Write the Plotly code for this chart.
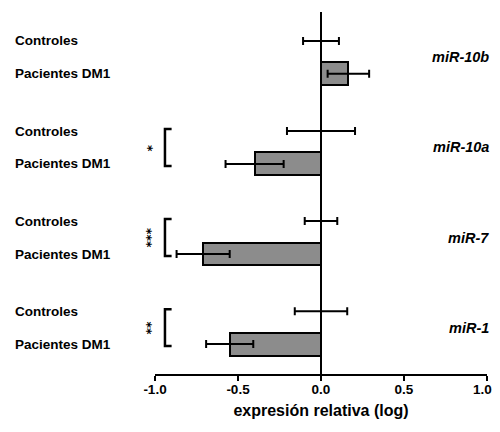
import plotly.graph_objects as go

# ---- data ----
mirnas = ["miR-10b", "miR-10a", "miR-7", "miR-1"]
group_labels = ["Controles", "Pacientes DM1"]
controls_mean = [0.0, 0.0, 0.0, 0.0]
controls_err = [0.108, 0.205, 0.098, 0.158]
patients_mean = [0.165, -0.40, -0.71, -0.55]
patients_err = [0.125, 0.175, 0.16, 0.142]
significance = ["", "*", "***", "**"]
x_ticks = [-1.0, -0.5, 0.0, 0.5, 1.0]

# ---- layout helpers (row positions in plot units) ----
GROUP_STEP = 90.4
ROW_STEP = 33
ctrl_y = [g * GROUP_STEP for g in range(len(mirnas))]
pat_y = [c + ROW_STEP for c in ctrl_y]
mid_y = [(c + p) / 2 for c, p in zip(ctrl_y, pat_y)]

FONT = "Liberation Sans, Arial, sans-serif"
GRAY = "#8c8c8c"
TICK_FONT = dict(family=FONT, size=13.5, color="black", weight="bold")

fig = go.Figure()

# patient bars
fig.add_trace(go.Bar(
    x=patients_mean, y=pat_y, orientation="h", width=23,
    marker=dict(color=GRAY, line=dict(color="black", width=2)),
    error_x=dict(type="data", array=patients_err, color="black", thickness=2, width=4),
    showlegend=False, hoverinfo="skip",
))

# control means with error bars
fig.add_trace(go.Scatter(
    x=controls_mean, y=ctrl_y, mode="markers",
    marker=dict(size=1, color="rgba(0,0,0,0)"),
    error_x=dict(type="data", array=controls_err, color="black", thickness=2, width=4),
    showlegend=False, hoverinfo="skip",
))

annotations = []
BR_X_IN, BR_X_OUT = -0.90, -0.94
for i, m in enumerate(mirnas):
    # left row labels
    for lab, yy in zip(group_labels, [ctrl_y[i], pat_y[i]]):
        annotations.append(dict(
            text=lab, xref="paper", x=0, xshift=-142, xanchor="left",
            yref="y", y=yy, yanchor="middle", showarrow=False,
            font=dict(family=FONT, size=13.5, color="black", weight="bold"),
        ))
    # right miRNA names
    annotations.append(dict(
        text="<b><i>%s</i></b>" % m, xref="paper", x=1, xshift=4, xanchor="right",
        yref="y", y=mid_y[i], yanchor="middle", showarrow=False,
        font=dict(family=FONT, size=14.5, color="black"),
    ))
    # significance brackets
    if significance[i]:
        fig.add_trace(go.Scatter(
            x=[BR_X_IN, BR_X_OUT, BR_X_OUT, BR_X_IN],
            y=[ctrl_y[i] - 2, ctrl_y[i] - 2, pat_y[i] + 2, pat_y[i] + 2],
            mode="lines", line=dict(color="black", width=2.5),
            cliponaxis=False, showlegend=False, hoverinfo="skip",
        ))
        annotations.append(dict(
            text=significance[i], xref="x", x=BR_X_OUT, xshift=-14,
            xanchor="center", yref="y", y=mid_y[i], yanchor="middle",
            textangle=-90, showarrow=False,
            font=dict(family="DejaVu Sans, sans-serif", size=12.5, color="black",
                      weight="bold"),
        ))

# tick labels; the last one sits at the page edge, so it is drawn as an
# annotation nudged inward to keep it fully visible
tick_text = ["%.1f" % v for v in x_ticks]
annotations.append(dict(
    text=tick_text[-1], xref="x", x=x_ticks[-1], xshift=-5, xanchor="center",
    yref="paper", y=0, yshift=-15, yanchor="middle", showarrow=False,
    font=TICK_FONT,
))
tick_text[-1] = ""

# the page body adds an 8px margin; size the figure so the plot lands in place
fig.update_layout(
    width=492, height=416,
    margin=dict(l=147, r=13, t=4, b=50, autoexpand=False),
    paper_bgcolor="white", plot_bgcolor="white",
    annotations=annotations,
    bargap=0,
)
fig.update_xaxes(
    range=[-1, 1], tickvals=x_ticks, ticktext=tick_text,
    showline=True, linecolor="black", linewidth=2,
    ticks="outside", ticklen=5, tickwidth=2, tickcolor="black",
    showgrid=False, zeroline=True, zerolinecolor="black", zerolinewidth=2,
    tickfont=TICK_FONT,
    ticklabeloverflow="allow", ticklabelstandoff=-3, automargin=False,
    title=dict(text="expresión relativa (log)", standoff=9,
               font=dict(family=FONT, size=16, color="black", weight="bold")),
    fixedrange=True,
)
fig.update_yaxes(
    range=[ctrl_y[-1] + ROW_STEP + 30, -29], visible=False, fixedrange=True,
    automargin=False,
)

fig.write_html("out.html")
